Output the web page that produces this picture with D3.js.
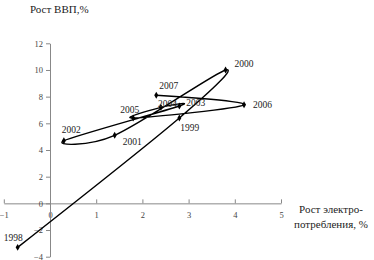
<!DOCTYPE html>
<html>
<head>
<meta charset="utf-8">
<script src="https://cdn.jsdelivr.net/npm/d3@7"></script>
<style>
	body { margin: 0; background: #fff; }
	svg text { font-family: "Liberation Serif", "DejaVu Serif", serif !important; }
</style>
</head>
<body>
<div id="chart"></div>
<script>
// electricity consumption growth (x) vs GDP growth (y), %
const years = [1998, 1999, 2000, 2001, 2002, 2003, 2004, 2005, 2006, 2007]
const elecGrowth = [-0.7, 2.8, 3.8, 1.4, 0.3, 2.8, 2.4, 1.8, 4.2, 2.3]
const gdpGrowth = [-3.3, 6.4, 10.0, 5.1, 4.7, 7.3, 7.2, 6.4, 7.4, 8.1]
const xTicks = [-1, 0, 1, 2, 3, 4, 5]
const yTicks = [-4, -2, 0, 2, 4, 6, 8, 10, 12]

// where each year label sits relative to its marker
const labelShift = {
	1998: [-14, -10], 1999: [1, 10], 2000: [9, -6], 2001: [8, 6], 2002: [-2, -11],
	2003: [7, -3], 2004: [-3, -4], 2005: [-13, -8], 2006: [9, 0], 2007: [3, -10]
}

const width = 374
const height = 260
const serif = "'Liberation Serif', 'DejaVu Serif', serif"

const svg = d3.select("#chart").append("svg")
	.attr("width", width)
	.attr("height", height)
	.attr("font-family", serif)

const x = d3.scaleLinear().domain([-1, 5]).range([3.8, 281])
const y = d3.scaleLinear().domain([-4, 12]).range([256.7, 43.3])

const points = years.map((yr, i) => ({year: yr, x: elecGrowth[i], y: gdpGrowth[i]}))

// x axis through y = 0, ticks pointing up
const xAxis = svg.append("g")
	.attr("transform", `translate(0,${y(0)})`)
	.call(d3.axisBottom(x).tickValues(xTicks).tickFormat(d3.format("d"))
		.tickSize(-4).tickSizeOuter(0).tickPadding(9))
	.attr("font-family", serif)
xAxis.select(".domain").attr("stroke", "#888")
xAxis.selectAll(".tick line").attr("stroke", "#888")
xAxis.selectAll(".tick text")
	.attr("font-size", 8.5)
	.attr("fill", "#444")

// y axis through x = 0
const yAxis = svg.append("g")
	.attr("transform", `translate(${x(0)},0)`)
	.call(d3.axisLeft(y).tickValues(yTicks).tickFormat(d3.format("d"))
		.tickSize(4).tickSizeOuter(0).tickPadding(3))
	.attr("font-family", serif)
yAxis.select(".domain").attr("stroke", "#888")
yAxis.selectAll(".tick line").attr("stroke", "#888")
yAxis.selectAll(".tick text")
	.attr("font-size", 8.5)
	.attr("fill", "#444")

const line = d3.line()
	.x(d => x(d.x))
	.y(d => y(d.y))
	.curve(d3.curveCatmullRom.alpha(0))

svg.append("path")
	.datum(points)
	.attr("fill", "none")
	.attr("stroke", "#000")
	.attr("stroke-width", 1.4)
	.attr("d", line)

svg.append("g").selectAll("path")
	.data(points)
	.join("path")
	.attr("transform", d => `translate(${x(d.x)},${y(d.y)})`)
	.attr("d", d3.symbol(d3.symbolDiamond, 14))
	.attr("fill", "#000")

svg.append("g").selectAll("text")
	.data(points)
	.join("text")
	.attr("x", d => x(d.x) + labelShift[d.year][0])
	.attr("y", d => y(d.y) + labelShift[d.year][1])
	.attr("dy", "0.35em")
	.attr("font-size", 9.5)
	.attr("fill", "#222")
	.text(d => d.year)

svg.append("text")
	.attr("x", 30)
	.attr("y", 9)
	.attr("dy", "0.35em")
	.attr("font-size", 11)
	.attr("fill", "#222")
	.text("Рост ВВП,%")

const xTitle = svg.append("text")
	.attr("text-anchor", "middle")
	.attr("font-size", 11)
	.attr("fill", "#222")
xTitle.append("tspan").attr("x", 331).attr("y", 213).text("Рост электро-")
xTitle.append("tspan").attr("x", 331).attr("y", 228).text("потребления, %")
</script>
</body>
</html>
